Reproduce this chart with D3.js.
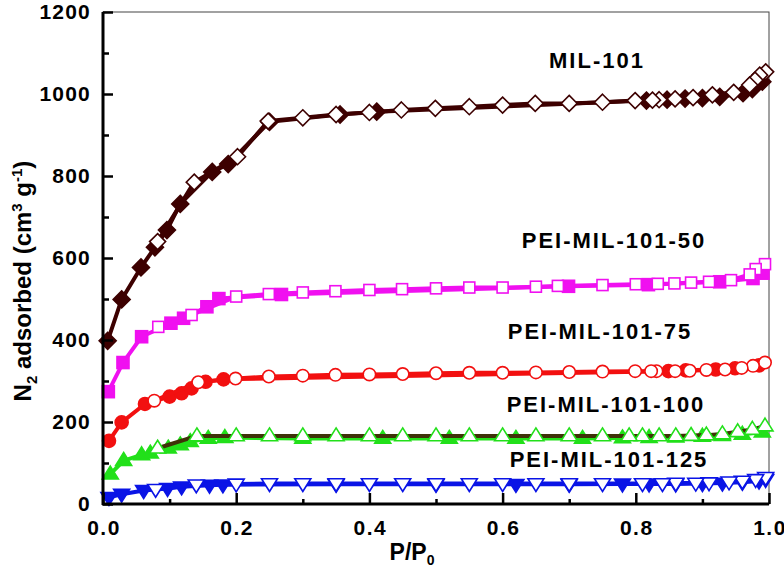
<!DOCTYPE html>
<html><head><meta charset="utf-8">
<script src="https://cdn.jsdelivr.net/npm/d3@7"></script>
<style>
body{margin:0;background:#fff;}
svg text{font-family:"Liberation Sans",Arial,sans-serif;font-weight:bold;}
</style></head>
<body><svg id="c" width="784" height="572"></svg>
<script>
// ---- data ----
const xTicks = [0.0, 0.2, 0.4, 0.6, 0.8, 1.0];
const yTicks = [0, 200, 400, 600, 800, 1000, 1200];

const mil_adsP = [0.007,0.028,0.057,0.078,0.096,0.116,0.164,0.188,0.25,0.356,0.411,0.816,0.847,0.874,0.9,0.926,0.961,0.975,0.99];
const mil_adsV = [398,499,577,626,668,732,810,829,932,950,957,984,986,989,990,993,1002,1012,1030];
const mil_desP = [0.995,0.986,0.979,0.971,0.947,0.915,0.886,0.859,0.835,0.825,0.799,0.75,0.70,0.649,0.6,0.55,0.499,0.448,0.40,0.35,0.30,0.248,0.202,0.137,0.082];
const mil_desV = [1054,1046,1034,1022,1004,998,991,988,986,985,984,980,977,977,973,969,965,961,955,950,942,934,847,785,640];

const p50_adsP = [0.008,0.03,0.058,0.102,0.121,0.156,0.174,0.268,0.699,0.819,0.926,0.976,0.991];
const p50_adsV = [274,345,408,441,453,481,501,511,531,535,542,550,563];
const p50_desP = [0.994,0.98,0.971,0.943,0.91,0.883,0.858,0.833,0.8,0.75,0.683,0.65,0.6,0.55,0.5,0.449,0.4,0.349,0.3,0.249,0.2,0.133,0.083];
const p50_desV = [585,573,560,546,542,540,538,537,536,534,532,530,528,528,526,524,522,519,516,512,506,461,432];

const p75_adsP = [0.009,0.028,0.063,0.1,0.118,0.133,0.154,0.181,0.849,0.875,0.92,0.949,0.985];
const p75_adsV = [154,199,244,262,270,282,298,304,324,326,328,331,338];
const p75_desP = [0.994,0.976,0.959,0.934,0.906,0.881,0.859,0.831,0.823,0.799,0.75,0.7,0.65,0.6,0.55,0.5,0.45,0.4,0.349,0.3,0.249,0.199,0.143,0.077];
const p75_desV = [345,337,332,328,327,325,324,324,324,324,323,322,321,320,320,319,317,316,315,313,311,306,297,252];

const p100_adsP = [0.011,0.031,0.058,0.071,0.098,0.116,0.131,0.158,0.183,0.3,0.42,0.52,0.62,0.72,0.78,0.82,0.86,0.9,0.93,0.96,0.99];
const p100_adsV = [73,106,120,124,136,144,152,160,162,160,160,160,160,160,161,162,163,165,167,170,175];
const p100_desP = [0.994,0.975,0.953,0.93,0.906,0.883,0.86,0.835,0.81,0.79,0.75,0.7,0.65,0.6,0.55,0.5,0.45,0.4,0.35,0.3,0.25,0.2,0.141,0.082];
const p100_desV = [190,182,176,171,168,167,166,166,166,166,166,166,166,166,166,166,166,166,166,166,166,166,166,136];

const p125_adsP = [0.009,0.028,0.061,0.097,0.118,0.16,0.18,0.35,0.5,0.62,0.7,0.78,0.82,0.86,0.9,0.93,0.96,0.985,0.995];
const p125_adsV = [16,24,33,38,42,46,47,48,48,48,48,49,49,49,50,51,53,56,60];
const p125_desP = [0.995,0.98,0.96,0.94,0.91,0.89,0.86,0.84,0.81,0.75,0.7,0.65,0.6,0.55,0.5,0.45,0.4,0.35,0.3,0.25,0.2,0.14,0.079];
const p125_desV = [65,60,56,54,52,51,51,50,50,50,50,50,50,50,50,50,50,50,50,50,49,47,36];

const seriesNames = ["MIL-101","PEI-MIL-101-50","PEI-MIL-101-75","PEI-MIL-101-100","PEI-MIL-101-125"];

// ---- layout ----
const svg = d3.select("#c");
const L=103, R=769, T=12, B=504;
const x = d3.scaleLinear().domain([0,1]).range([L,R]);
const y = d3.scaleLinear().domain([0,1200]).range([B,T]);
const zip=(a,b)=>a.map((v,i)=>[v,b[i]]);

const series = [
  {name:seriesNames[4], ads:zip(p125_adsP,p125_adsV), des:zip(p125_desP,p125_desV), color:"#0a14e6", dcolor:"#0a14e6", sym:"tridown", lx:609, ly:467},
  {name:seriesNames[3], ads:zip(p100_adsP,p100_adsV), des:zip(p100_desP,p100_desV), color:"#22e01a", dcolor:"#3f3208", sym:"triup", lx:606, ly:412},
  {name:seriesNames[2], ads:zip(p75_adsP,p75_adsV), des:zip(p75_desP,p75_desV), color:"#f21010", dcolor:"#f21010", sym:"circle", lx:600, ly:339},
  {name:seriesNames[1], ads:zip(p50_adsP,p50_adsV), des:zip(p50_desP,p50_desV), color:"#f010f0", dcolor:"#f010f0", sym:"square", lx:614, ly:248},
  {name:seriesNames[0], ads:zip(mil_adsP,mil_adsV), des:zip(mil_desP,mil_desV), color:"#3d0000", dcolor:"#3d0000", sym:"diamond", lx:597, ly:68},
];

// frame
svg.append("rect").attr("x",L).attr("y",T).attr("width",R-L).attr("height",B-T)
  .attr("fill","none").attr("stroke","#444").attr("stroke-width",1);

const line = d3.line().x(d=>x(d[0])).y(d=>y(d[1]));

function marker(g, pts, sym, color, filled){
  const fill = filled?color:"#fff";
  const sw = 1.6;
  pts.forEach(d=>{
    const cx=x(d[0]), cy=y(d[1]);
    let el;
    if(sym==="circle"){
      el=g.append("circle").attr("cx",cx).attr("cy",cy).attr("r",filled?6.5:6.2);
    } else if(sym==="square"){
      const s=filled?12:11;
      el=g.append("rect").attr("x",cx-s/2).attr("y",cy-s/2).attr("width",s).attr("height",s);
    } else if(sym==="diamond"){
      const r=filled?8.5:8;
      el=g.append("path").attr("d",`M${cx},${cy-r}L${cx+r},${cy}L${cx},${cy+r}L${cx-r},${cy}Z`);
    } else if(sym==="triup"){
      const r=8;
      el=g.append("path").attr("d",`M${cx},${cy-r}L${cx+r},${cy+r*0.6}L${cx-r},${cy+r*0.6}Z`);
    } else {
      const r=8;
      el=g.append("path").attr("d",`M${cx},${cy+r}L${cx+r},${cy-r*0.6}L${cx-r},${cy-r*0.6}Z`);
    }
    el.attr("fill",fill).attr("stroke",color).attr("stroke-width",sw);
  });
}

series.forEach(s=>{
  const g=svg.append("g");
  g.append("path").datum(s.ads).attr("d",line).attr("fill","none")
    .attr("stroke",s.color).attr("stroke-width",4).attr("stroke-linejoin","round");
  marker(g,s.ads,s.sym,s.color,true);
  g.append("path").datum(s.des).attr("d",line).attr("fill","none")
    .attr("stroke",s.dcolor).attr("stroke-width",4).attr("stroke-linejoin","round");
  marker(g,s.des,s.sym,s.color,false);
  svg.append("text").attr("x",s.lx).attr("y",s.ly).attr("text-anchor","middle")
    .attr("font-size",22).attr("letter-spacing",2).attr("fill","#000").text(s.name);
});

// axes
const xAxis = d3.axisBottom(x).tickValues(d3.range(0,1.0001,0.1)).tickSizeInner(-5).tickSizeOuter(0).tickFormat("");
const gx=svg.append("g").attr("transform",`translate(0,${B})`).call(xAxis);
gx.selectAll(".tick line").attr("stroke","#000").attr("stroke-width",2.5)
  .attr("y2",(d,i)=> i%2===0?-11:-5);
gx.select(".domain").remove();
const yAxis = d3.axisLeft(y).tickValues(d3.range(0,1201,100)).tickSizeInner(-5).tickSizeOuter(0).tickFormat("");
const gy=svg.append("g").attr("transform",`translate(${L},0)`).call(yAxis);
gy.selectAll(".tick line").attr("stroke","#000").attr("stroke-width",2.5)
  .attr("x2",(d,i)=> i%2===0?10:6);
gy.select(".domain").remove();
svg.append("line").attr("x1",L).attr("x2",L).attr("y1",T).attr("y2",B+1).attr("stroke","#000").attr("stroke-width",3);
svg.append("line").attr("x1",L-1).attr("x2",R).attr("y1",B).attr("y2",B).attr("stroke","#000").attr("stroke-width",3);

// tick labels
svg.append("g").selectAll("text").data(xTicks).join("text")
  .attr("x",d=>x(d)+1).attr("y",535).attr("text-anchor","middle")
  .attr("font-size",21).attr("letter-spacing",1.5).text(d=>d.toFixed(1));
svg.append("g").selectAll("text").data(yTicks).join("text")
  .attr("x",91).attr("y",d=>y(d)+7).attr("text-anchor","end")
  .attr("font-size",21).attr("letter-spacing",1.2).text(d=>d);

// axis titles
const xt=svg.append("text").attr("x",412).attr("y",560).attr("text-anchor","middle").attr("font-size",23);
xt.append("tspan").text("P/P");
xt.append("tspan").attr("font-size",14).attr("dy",5).text("0");

const yt=svg.append("text").attr("transform","translate(31,281) rotate(-90)").attr("text-anchor","middle").attr("font-size",24);
yt.append("tspan").text("N");
yt.append("tspan").attr("font-size",15).attr("dy",6).text("2");
yt.append("tspan").attr("dy",-6).text(" adsorbed (cm");
yt.append("tspan").attr("font-size",15).attr("dy",-9).text("3");
yt.append("tspan").attr("dy",9).text(" g");
yt.append("tspan").attr("font-size",15).attr("dy",-9).text("-1");
yt.append("tspan").attr("dy",9).text(")");
</script></body></html>
